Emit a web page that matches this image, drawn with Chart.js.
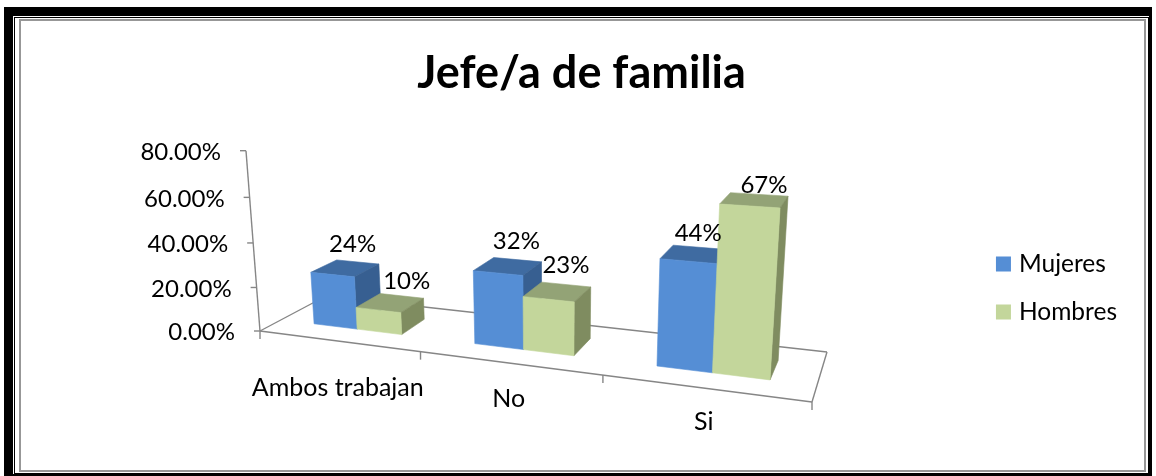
<!DOCTYPE html>
<html><head><meta charset="utf-8">
<style>
html,body{margin:0;padding:0;background:#fff;width:1156px;height:476px;overflow:hidden}
.f{position:absolute;box-sizing:border-box}
canvas{position:absolute;left:0;top:0}
</style>
<script src="https://cdn.jsdelivr.net/npm/chart.js@4"></script>
</head><body>
<div class="f" style="left:4px;top:7px;width:1148px;height:469px;border:solid #000;border-width:9px 3px 2px 9px"></div>
<div class="f" style="left:14px;top:17px;width:1135px;height:457px;border:1px solid #000"></div>
<div class="f" style="left:19px;top:19px;width:1127px;height:453px;border:2px solid #979797"></div>
<canvas id="c" width="1156" height="476"></canvas>
<script>
const categories = ['Ambos trabajan', 'No', 'Si'];
const mujeres = [0.24, 0.32, 0.44];
const hombres = [0.10, 0.23, 0.67];
const mujeresLabels = ['24%', '32%', '44%'];
const hombresLabels = ['10%', '23%', '67%'];
const yTicks = [0, 0.2, 0.4, 0.6, 0.8];

// Perspective of the pseudo-3D floor: the library's scale pixels are projected through it.
const FL = [260, 331], FR = [812, 402], BR = [827, 352], BL = [326, 296];
const VP = [553, 4103], TOPY = 150.7;
const depthFront = 0.3, depthBack = 0.7;
const shades = [
  {front:'#558ed5', top:'#3f6ba1', side:'#375f91'},
  {front:'#c3d69b', top:'#93a376', side:'#7f8c60'}
];
const AXIS = '#868686', FONT = 'Lato, Carlito, sans-serif', NUM = '24px ' + FONT, TXT = '25px ' + FONT;
const catLabelDrop = [47, 36, 34];
// small placement corrections for the value labels, as the reference sets them by hand
const labelNudge = [[[-5,-18],[-1,-18],[-2,-14]],[[5,-15],[0,-19],[5,-9]]];

function makeProjector() {
  const [x0,y0]=FL,[x1,y1]=FR,[x2,y2]=BR,[x3,y3]=BL;
  const dx1=x1-x2,dx2=x3-x2,dy1=y1-y2,dy2=y3-y2,sx=x0-x1+x2-x3,sy=y0-y1+y2-y3;
  const den=dx1*dy2-dx2*dy1;
  const g=(sx*dy2-dx2*sy)/den,h=(dx1*sy-sx*dy1)/den;
  const a=x1-x0+g*x1,b=x3-x0+h*x3,c=x0,d=y1-y0+g*y1,e=y3-y0+h*y3,f=y0;
  const s=(TOPY-f)/(VP[1]-TOPY);
  return (u,v,w)=>{
    const W=g*u+h*v+1+s*w;
    return [(a*u+b*v+c+s*VP[0]*w)/W,(d*u+e*v+f+s*VP[1]*w)/W];
  };
}
const project = makeProjector();
function poly(ctx,pts,fill,stroke){
  ctx.beginPath();pts.forEach((p,i)=>i?ctx.lineTo(p[0],p[1]):ctx.moveTo(p[0],p[1]));ctx.closePath();
  ctx.fillStyle=fill;ctx.fill();
  ctx.strokeStyle=stroke||fill;ctx.lineWidth=0.6;ctx.stroke();
}
function line(ctx,a,b){ctx.beginPath();ctx.moveTo(a[0],a[1]);ctx.lineTo(b[0],b[1]);ctx.stroke();}

const perspective3D = {
  id:'perspective3D',
  beforeDatasetsDraw(chart){
    const ctx=chart.ctx,area=chart.chartArea,xs=chart.scales.x,ys=chart.scales.y;
    const U=px=>(px-area.left)/area.width, H=px=>(area.bottom-px)/area.height;
    ctx.save();
    ctx.strokeStyle=AXIS;ctx.lineWidth=1.4;
    const fl=project(0,0,0),fr=project(1,0,0),br=project(1,1,0),bl=project(0,1,0);
    line(ctx,fl,fr);line(ctx,fr,br);line(ctx,br,bl);line(ctx,bl,fl);
    line(ctx,fl,project(0,0,1));
    ctx.fillStyle='#000';
    ctx.font=NUM;ctx.textBaseline='middle';ctx.textAlign='right';
    ys.ticks.forEach(t=>{
      const p=project(0,0,H(ys.getPixelForValue(t.value)));
      line(ctx,p,[p[0]-6,p[1]]);
      ctx.fillText(t.label,p[0]-25,p[1]+1.5);
    });
    const step=xs.width/categories.length;
    for(let i=0;i<=categories.length;i++){
      const p=project(U(xs.left+i*step),0,0);
      line(ctx,p,[p[0],p[1]+8]);
    }
    ctx.textAlign='center';ctx.font=TXT;
    categories.forEach((name,i)=>{
      const p=project(U(xs.getPixelForValue(i)),0,0);
      ctx.fillStyle='#000';
      ctx.fillText(name,p[0],p[1]+catLabelDrop[i]);
    });
    const metas=[chart.getDatasetMeta(0),chart.getDatasetMeta(1)];
    categories.forEach((_,i)=>{
      metas.forEach((meta,k)=>{
        const el=meta.data[i],c=shades[k];
        const u0=U(el.x-el.width/2),u1=U(el.x+el.width/2),w=H(el.y);
        const P=(u,v,t)=>project(u,v,t);
        poly(ctx,[P(u0,depthBack,w),P(u1,depthBack,w),P(u1,depthFront,w),P(u0,depthFront,w)],c.top);
        poly(ctx,[P(u1,depthFront,0),P(u1,depthBack,0),P(u1,depthBack,w),P(u1,depthFront,w)],c.side);
        poly(ctx,[P(u0,depthFront,0),P(u1,depthFront,0),P(u1,depthFront,w),P(u0,depthFront,w)],c.front);
      });
    });
    ctx.fillStyle='#000';ctx.font=NUM;ctx.textAlign='center';
    [mujeresLabels,hombresLabels].forEach((labels,k)=>{
      labels.forEach((txt,i)=>{
        const el=metas[k].data[i];
        const p=project(U(el.x),depthBack,H(el.y));
        ctx.fillText(txt,p[0]+labelNudge[k][i][0],p[1]+labelNudge[k][i][1]);
      });
    });
    ctx.restore();
    return false;
  }
};

new Chart(document.getElementById('c'),{
  type:'bar',
  data:{labels:categories,datasets:[
    {label:'Mujeres',data:mujeres,backgroundColor:shades[0].front,borderWidth:0,categoryPercentage:0.56,barPercentage:1},
    {label:'Hombres',data:hombres,backgroundColor:shades[1].front,borderWidth:0,categoryPercentage:0.56,barPercentage:1}
  ]},
  options:{
    responsive:false,animation:false,
    layout:{padding:{left:36,right:29,top:46,bottom:10}},
    scales:{
      x:{display:false,offset:true},
      y:{display:false,min:0,max:0.8,afterBuildTicks(s){s.ticks=yTicks.map(v=>({value:v}));},
         ticks:{callback:v=>(v*100).toFixed(2)+'%'}}
    },
    plugins:{
      title:{display:true,text:'Jefe/a de familia',color:'#000',font:{family:FONT,size:45,weight:'bold'},padding:{top:0,bottom:10}},
      legend:{position:'right',fullSize:false,labels:{color:'#000',boxWidth:6.5,boxHeight:6.5,padding:23.5,font:{family:FONT,size:24.5},
        generateLabels(chart){
          return Chart.defaults.plugins.legend.labels.generateLabels(chart).map(it=>Object.assign(it,{lineWidth:8.5,strokeStyle:it.fillStyle}));
        }}},
      tooltip:{enabled:false}
    }
  },
  plugins:[perspective3D]
});
</script>
</body></html>
